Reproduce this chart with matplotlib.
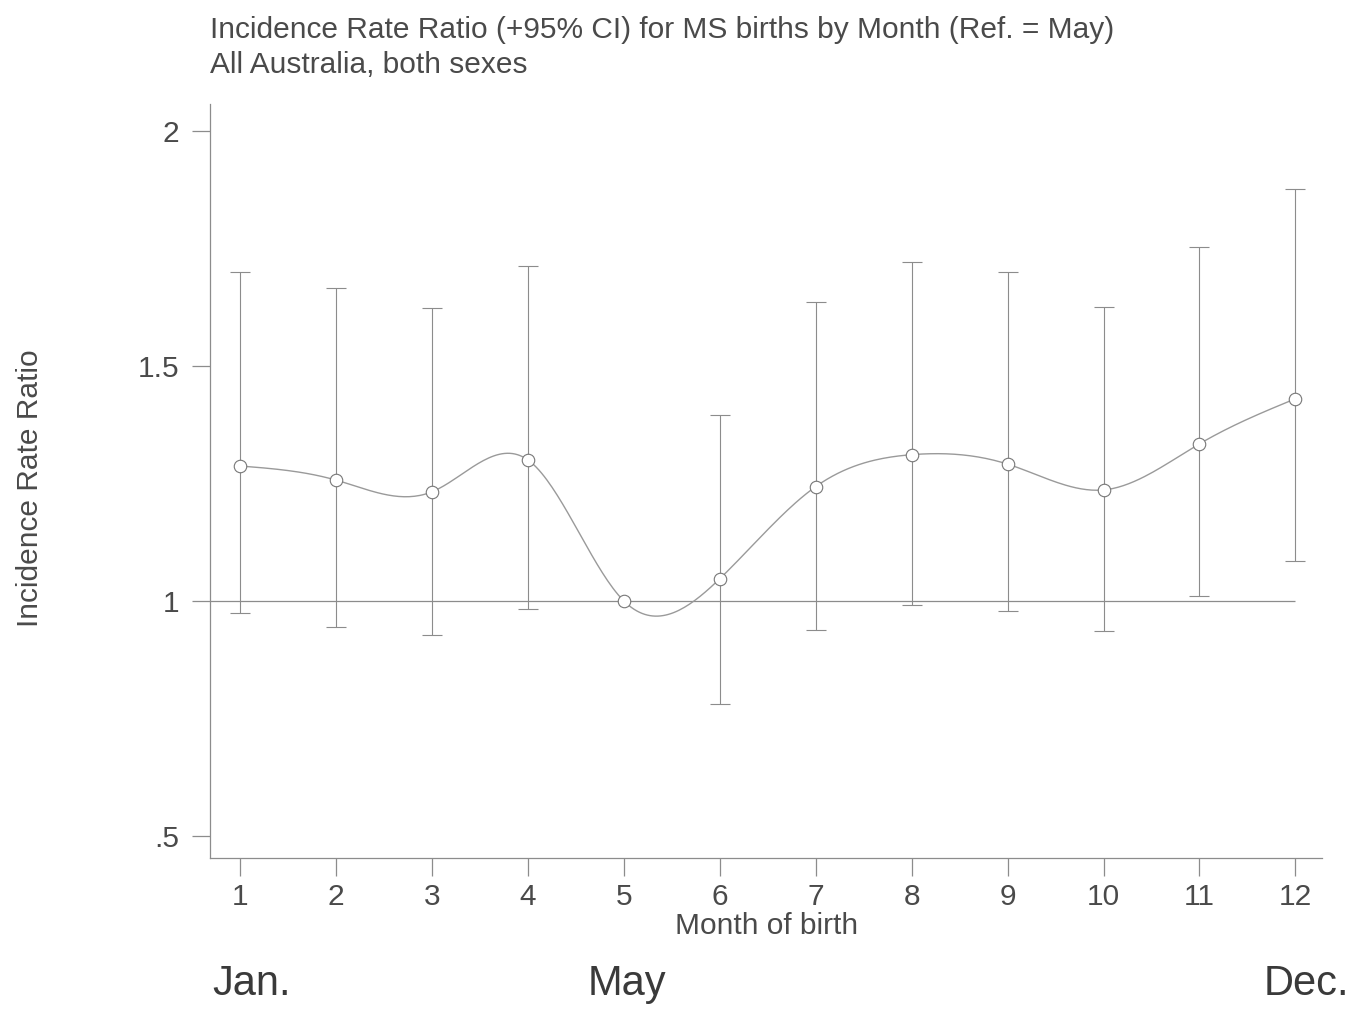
import numpy as np
import matplotlib
matplotlib.use("Agg")
import matplotlib.pyplot as plt

# Incidence rate ratios of MS by month of birth (reference month: May)
months = np.arange(1, 13)
irr = [1.287, 1.257, 1.232, 1.300, 1.000, 1.047, 1.243, 1.311, 1.291, 1.236, 1.334, 1.430]
ci_upper = [1.700, 1.666, 1.623, 1.713, np.nan, 1.396, 1.636, 1.721, 1.700, 1.626, 1.753, 1.877]
ci_lower = [0.974, 0.945, 0.928, 0.983, np.nan, 0.781, 0.938, 0.991, 0.979, 0.936, 1.011, 1.085]
y_ticks = [0.5, 1.0, 1.5, 2.0]
y_tick_labels = [".5", "1", "1.5", "2"]
season_labels = ["Jan.", "May", "Dec."]

TEXT = "#4a4a4a"
LINE = "#8c8c8c"
plt.rcParams["font.family"] = ["Liberation Sans", "DejaVu Sans"]


def natural_cubic_spline(x, y, xs):
    x = np.asarray(x, float)
    y = np.asarray(y, float)
    n = len(x)
    h = np.diff(x)
    A = np.zeros((n, n))
    b = np.zeros(n)
    A[0, 0] = A[-1, -1] = 1.0
    for i in range(1, n - 1):
        A[i, i - 1] = h[i - 1]
        A[i, i] = 2 * (h[i - 1] + h[i])
        A[i, i + 1] = h[i]
        b[i] = 6 * ((y[i + 1] - y[i]) / h[i] - (y[i] - y[i - 1]) / h[i - 1])
    M = np.linalg.solve(A, b)
    idx = np.clip(np.searchsorted(x, xs) - 1, 0, n - 2)
    x0, x1 = x[idx], x[idx + 1]
    hh = x1 - x0
    t0, t1 = x1 - xs, xs - x0
    return (M[idx] * t0 ** 3 / (6 * hh) + M[idx + 1] * t1 ** 3 / (6 * hh)
            + (y[idx] / hh - M[idx] * hh / 6) * t0
            + (y[idx + 1] / hh - M[idx + 1] * hh / 6) * t1)


fig = plt.figure(figsize=(13.52, 10.10), dpi=100)
ax = fig.add_axes([0.1553, 0.1505, 0.8227, 0.7465])
xlim = (0.687, 12.28)
ax.set_xlim(*xlim)
ax.set_ylim(0.453, 2.057)

# reference line at IRR = 1
ax.hlines(1.0, xlim[0], months[-1], color=LINE, lw=0.9, zorder=1)

# confidence intervals
irr_a = np.array(irr)
up = np.array(ci_upper)
lo = np.array(ci_lower)
has_ci = ~np.isnan(up)
ax.errorbar(months[has_ci], irr_a[has_ci],
            yerr=[irr_a[has_ci] - lo[has_ci], up[has_ci] - irr_a[has_ci]],
            fmt="none", ecolor=LINE, elinewidth=0.8, capsize=7.5, capthick=0.8, zorder=2)

# smoothed curve through the estimates
xs = np.linspace(months[0], months[-1], 400)
ax.plot(xs, natural_cubic_spline(months, irr, xs), color="#9a9a9a", lw=1.0, zorder=3)
ax.plot(months, irr, linestyle="none", marker="o", ms=9, mfc="white",
        mec="#777777", mew=0.8, zorder=4)

for s in ("top", "right"):
    ax.spines[s].set_visible(False)
for s in ("left", "bottom"):
    ax.spines[s].set_color(LINE)
    ax.spines[s].set_linewidth(0.9)

ax.set_xticks(months)
ax.set_xticklabels([str(m) for m in months])
ax.set_yticks(y_ticks)
ax.set_yticklabels(y_tick_labels)
ax.tick_params(axis="both", colors=LINE, labelcolor=TEXT, labelsize=21.5,
               length=13, width=0.9, direction="out")
ax.tick_params(axis="y", pad=9)
ax.tick_params(axis="x", pad=5)

ax.set_xlabel("Month of birth", fontsize=21.5, color=TEXT, labelpad=1)
fig.text(0.022, 0.517, "Incidence Rate Ratio", rotation=90, fontsize=21.5,
         color=TEXT, ha="center", va="center")

fig.text(0.155, 0.970, "Incidence Rate Ratio (+95% CI) for MS births by Month (Ref. = May)",
         fontsize=21.5, color=TEXT, ha="left", va="center")
fig.text(0.155, 0.936, "All Australia, both sexes",
         fontsize=21.5, color=TEXT, ha="left", va="center")

for lab, xf in zip(season_labels, [0.157, 0.435, 0.935]):
    fig.text(xf, 0.006, lab, fontsize=30, color="#3a3a3a", ha="left", va="bottom")

fig.savefig("out.png", dpi=100, facecolor="white")
